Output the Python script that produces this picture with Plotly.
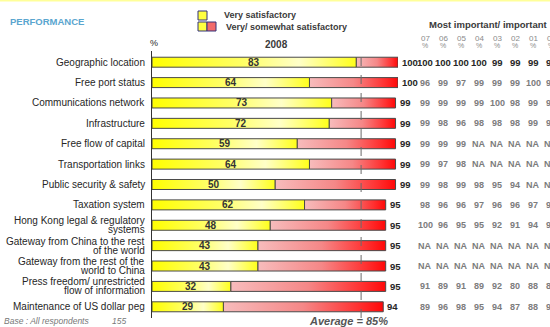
import plotly.graph_objects as go

# ---- data -------------------------------------------------------------
categories = [
    "Geographic location",
    "Free port status",
    "Communications network",
    "Infrastructure",
    "Free flow of capital",
    "Transportation links",
    "Public security & safety",
    "Taxation system",
    "Hong Kong legal & regulatory<br>systems",
    "Gateway from China to the rest<br>of the world",
    "Gateway from the rest of the<br>world to China",
    "Press freedom/ unrestricted<br>flow of information",
    "Maintenance of US dollar peg",
]
very_satisfactory = [83, 64, 73, 72, 59, 64, 50, 62, 48, 43, 43, 32, 29]
very_somewhat_satisfactory = [100, 100, 99, 99, 99, 99, 99, 95, 95, 95, 95, 95, 94]
average = 85
year_labels = ["07", "06", "05", "04", "03", "02", "01", "00"]
importance = [
    ["100", "100", "100", "100", "99", "99", "99", "99"],
    ["96", "99", "97", "99", "99", "99", "100", "98"],
    ["99", "99", "99", "99", "100", "98", "99", "99"],
    ["99", "98", "96", "98", "98", "98", "99", "99"],
    ["99", "99", "99", "NA", "NA", "NA", "NA", "NA"],
    ["99", "97", "98", "NA", "NA", "NA", "NA", "NA"],
    ["99", "98", "99", "98", "95", "94", "NA", "NA"],
    ["98", "96", "96", "97", "96", "96", "97", "97"],
    ["100", "96", "95", "95", "92", "91", "94", "95"],
    ["NA", "NA", "NA", "NA", "NA", "NA", "NA", "NA"],
    ["NA", "NA", "NA", "NA", "NA", "NA", "NA", "NA"],
    ["91", "89", "91", "89", "92", "80", "88", "85"],
    ["89", "96", "98", "95", "94", "87", "88", "94"],
]
base_n = 155

# ---- geometry ---------------------------------------------------------
W, H = 550, 327
ML, MR, MT, MB = 152, 152, 51, 9
PW, PH = W - ML - MR, H - MT - MB
n = len(categories)
HALF = 0.245  # half bar thickness in row units

def px2x(px):
    return (px - ML) / PW

def py2y(py):
    return 1 - (py - MT) / PH

FONT = "Liberation Sans, Arial, sans-serif"
DARK = "#262626"
GREY = "#7c7c7c"

yellow_scale = [[0, "#ffff00"], [0.45, "#ffff66"], [0.72, "#ffffc8"], [1, "#ffff1a"]]
red_scale = [[0, "#f7bcbc"], [0.5, "#f58787"], [0.85, "#ff3030"], [1, "#ff0808"]]

fig = go.Figure()

def add_segment(x0, x1, row, scale):
    fig.add_trace(go.Scatter(
        x=[x0, x1, x1, x0, x0],
        y=[row - HALF, row - HALF, row + HALF, row + HALF, row - HALF],
        mode="lines", fill="toself",
        fillgradient=dict(type="horizontal", colorscale=scale),
        line=dict(color="#4a4a4a", width=1),
        hoverinfo="skip", showlegend=False,
    ))

for i in range(n):
    add_segment(very_satisfactory[i], very_somewhat_satisfactory[i], i, red_scale)
    add_segment(0, very_satisfactory[i], i, yellow_scale)

ann = []

def text(x, y, s, size, color, xref="paper", yref="paper", xanchor="center",
         weight="normal", style="normal", xshift=0, yshift=0):
    ann.append(dict(x=x, xref=xref, y=y, yref=yref, text=s, showarrow=False,
                    xanchor=xanchor, yanchor="middle", xshift=xshift, yshift=yshift,
                    font=dict(family=FONT, size=size, color=color,
                              weight=weight, style=style)))

# category labels
for i, lab in enumerate(categories):
    lines = lab.split("<br>")
    k = len(lines)
    for j, line in enumerate(lines):
        text(0, i, line, 10, DARK, yref="y", xanchor="right", xshift=-5,
             yshift=(k - 1) * 4.5 - j * 9)

# values inside bars and at bar ends
for i in range(n):
    text(very_satisfactory[i] / 2, i, str(very_satisfactory[i]), 10, "#333333",
         xref="x", yref="y", weight="bold")
    text(very_somewhat_satisfactory[i], i, str(very_somewhat_satisfactory[i]), 9.5,
         DARK, xref="x", yref="y", xanchor="left", xshift=2, weight="bold")

# importance table
col_px = [425, 443, 461, 479, 497, 515, 533, 551]
for c, yl in enumerate(year_labels):
    text(px2x(col_px[c]), py2y(38), yl, 8, "#8a8a8a")
    text(px2x(col_px[c]), py2y(46), "%", 7, "#8a8a8a")
for i, row in enumerate(importance):
    first = i == 0
    for c, v in enumerate(row):
        text(px2x(col_px[c]), i, v, 9.5 if first else 9,
             DARK if first else GREY, yref="y", weight="bold")

# titles and captions
text(px2x(8), py2y(22), "PERFORMANCE", 9.5, "#5aa6cf", xanchor="left", weight="bold")
text(px2x(222), py2y(15), "Very satisfactory", 9, "#3a3a3a", xanchor="left", weight="bold")
text(px2x(224), py2y(27), "Very/ somewhat satisfactory", 9, "#3a3a3a",
     xanchor="left", weight="bold")
text(px2x(154), py2y(43), "%", 9, DARK)
text(px2x(276), py2y(45), "2008", 10, "#3a3a3a", weight="bold")
text(px2x(488), py2y(25), "Most important/ important", 9.5, "#3a3a3a", weight="bold")
text(average, py2y(321), f"Average = {average}%", 11, "#555555", xref="x",
     xshift=-13, weight="bold", style="italic")
text(px2x(2), py2y(321), "Base : All respondents", 8.5, "#777777",
     xanchor="left", style="italic")
text(px2x(110), py2y(321), str(base_n), 8.5, "#777777", xanchor="left", style="italic")

shapes = [
    # thin band along the top edge
    dict(type="rect", xref="paper", yref="paper", x0=px2x(0), x1=px2x(W),
         y0=py2y(1.5), y1=py2y(0), fillcolor="#ffff99", line=dict(width=0)),
    # average reference line
    dict(type="line", xref="x", yref="paper", x0=average, x1=average,
         y0=py2y(318), y1=py2y(48), line=dict(color="#6a6a6a", width=1, dash="dash")),
    # legend swatches
    dict(type="rect", xref="paper", yref="paper", x0=px2x(198), x1=px2x(207),
         y0=py2y(20), y1=py2y(11), fillcolor="#ffff40", line=dict(color="#33337a", width=1)),
    dict(type="rect", xref="paper", yref="paper", x0=px2x(198), x1=px2x(207),
         y0=py2y(31), y1=py2y(22), fillcolor="#ffff40", line=dict(color="#33337a", width=1)),
    dict(type="rect", xref="paper", yref="paper", x0=px2x(207), x1=px2x(216),
         y0=py2y(31), y1=py2y(22), fillcolor="#f26a6a", line=dict(color="#33337a", width=1)),
]

fig.update_layout(
    width=W, height=H, autosize=False,
    margin=dict(l=ML, r=MR, t=MT, b=MB, pad=0),
    paper_bgcolor="white", plot_bgcolor="white",
    showlegend=False,
    xaxis=dict(range=[0, 100], visible=False, fixedrange=True),
    yaxis=dict(range=[n - 1 + 0.55, -0.55], showline=True, linecolor="#333333",
               linewidth=1, showgrid=False, zeroline=False, ticks="",
               showticklabels=False, fixedrange=True),
    annotations=ann,
    shapes=shapes,
)

fig.write_html("out.html")
